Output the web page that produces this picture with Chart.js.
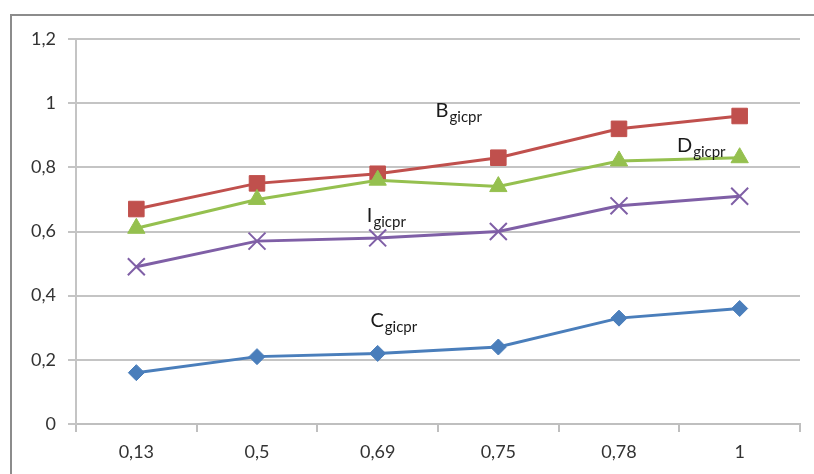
<!DOCTYPE html>
<html>
<head>
<meta charset="utf-8">
<script src="https://cdn.jsdelivr.net/npm/chart.js@4"></script>
<style>
  html, body { margin: 0; padding: 0; background: #fff; }
  #wrap { position: relative; width: 814px; height: 474px; }
  #frame { position: absolute; left: 10px; top: 14px; width: 900px; height: 600px;
           border-left: 2px solid #8c8c8c; border-top: 2px solid #8c8c8c; }
  canvas { position: absolute; left: 0; top: 0; }
</style>
</head>
<body>
<div id="wrap">
  <div id="frame"></div>
  <canvas id="myChart" width="814" height="474"></canvas>
</div>
<script>
const labels = ["0,13", "0,5", "0,69", "0,75", "0,78", "1"];
const seriesB = [0.67, 0.75, 0.78, 0.83, 0.92, 0.96];
const seriesD = [0.61, 0.70, 0.76, 0.74, 0.82, 0.83];
const seriesI = [0.49, 0.57, 0.58, 0.60, 0.68, 0.71];
const seriesC = [0.16, 0.21, 0.22, 0.24, 0.33, 0.36];
const yTicks = [0, 0.2, 0.4, 0.6, 0.8, 1, 1.2];

// series name labels placed in data space: [main letter, category index, value]
const nameLabels = [
    ["B", 2.48, 0.98],
    ["D", 4.48, 0.87],
    ["I", 1.91, 0.65],
    ["C", 1.94, 0.325]
];

function createChart() {
    const nameLabelPlugin = {
        id: 'nameLabels',
        afterDatasetsDraw(chart) {
            const ctx = chart.ctx;
            const xs = chart.scales.x, ys = chart.scales.y;
            ctx.save();
            ctx.fillStyle = '#1a1a1a';
            ctx.textBaseline = 'alphabetic';
            ctx.textAlign = 'left';
            nameLabels.forEach(([letter, idx, val]) => {
                const x = xs.getPixelForValue(idx);
                const y = ys.getPixelForValue(val) + 7;
                ctx.font = '20px Lato';
                ctx.fillText(letter, x, y);
                const w = ctx.measureText(letter).width;
                ctx.font = '15px Lato';
                ctx.fillText('gicpr', x + w + 1, y + 5);
            });
            ctx.restore();
        }
    };

    const mk = (data, color, style, radius, bw) => ({
        data: data,
        borderColor: color,
        backgroundColor: color,
        pointBackgroundColor: color,
        pointBorderColor: color,
        pointStyle: style,
        pointRadius: radius,
        pointHoverRadius: radius,
        pointBorderWidth: bw,
        borderWidth: 3,
        tension: 0
    });

    const ctx = document.getElementById('myChart').getContext('2d');
    new Chart(ctx, {
        type: 'line',
        data: {
            labels: labels,
            datasets: [
                mk(seriesC, '#4a7ebb', 'rectRot', 8, 1),
                mk(seriesI, '#7f5fa6', 'crossRot', 12, 2),
                mk(seriesD, '#95c04f', 'triangle', 10, 1),
                mk(seriesB, '#c0504d', 'rect', 11, 1)
            ]
        },
        options: {
            responsive: false,
            animation: false,
            layout: { padding: { top: 39, right: 12, left: 0, bottom: 0 } },
            plugins: {
                legend: { display: false },
                tooltip: { enabled: false }
            },
            scales: {
                x: {
                    offset: true,
                    grid: { offset: true, drawOnChartArea: false, tickLength: 8, color: '#bfbfbf', lineWidth: 2 },
                    border: { color: '#bfbfbf', width: 2 },
                    ticks: { color: '#333333', padding: 9, font: { family: 'Lato', size: 18 } },
                    afterFit: s => { s.height = 50; }
                },
                y: {
                    min: 0,
                    max: 1.2,
                    afterBuildTicks: s => { s.ticks = yTicks.map(v => ({ value: v })); },
                    grid: { color: '#c4c4c4', lineWidth: 2, tickLength: 8 },
                    border: { color: '#c4c4c4', width: 2 },
                    ticks: {
                        color: '#333333', padding: 12,
                        font: { family: 'Lato', size: 18 },
                        callback: v => String(v).replace('.', ',')
                    },
                    afterFit: s => { s.width = 76; }
                }
            }
        },
        plugins: [nameLabelPlugin]
    });
}
createChart()
</script>
</body>
</html>
